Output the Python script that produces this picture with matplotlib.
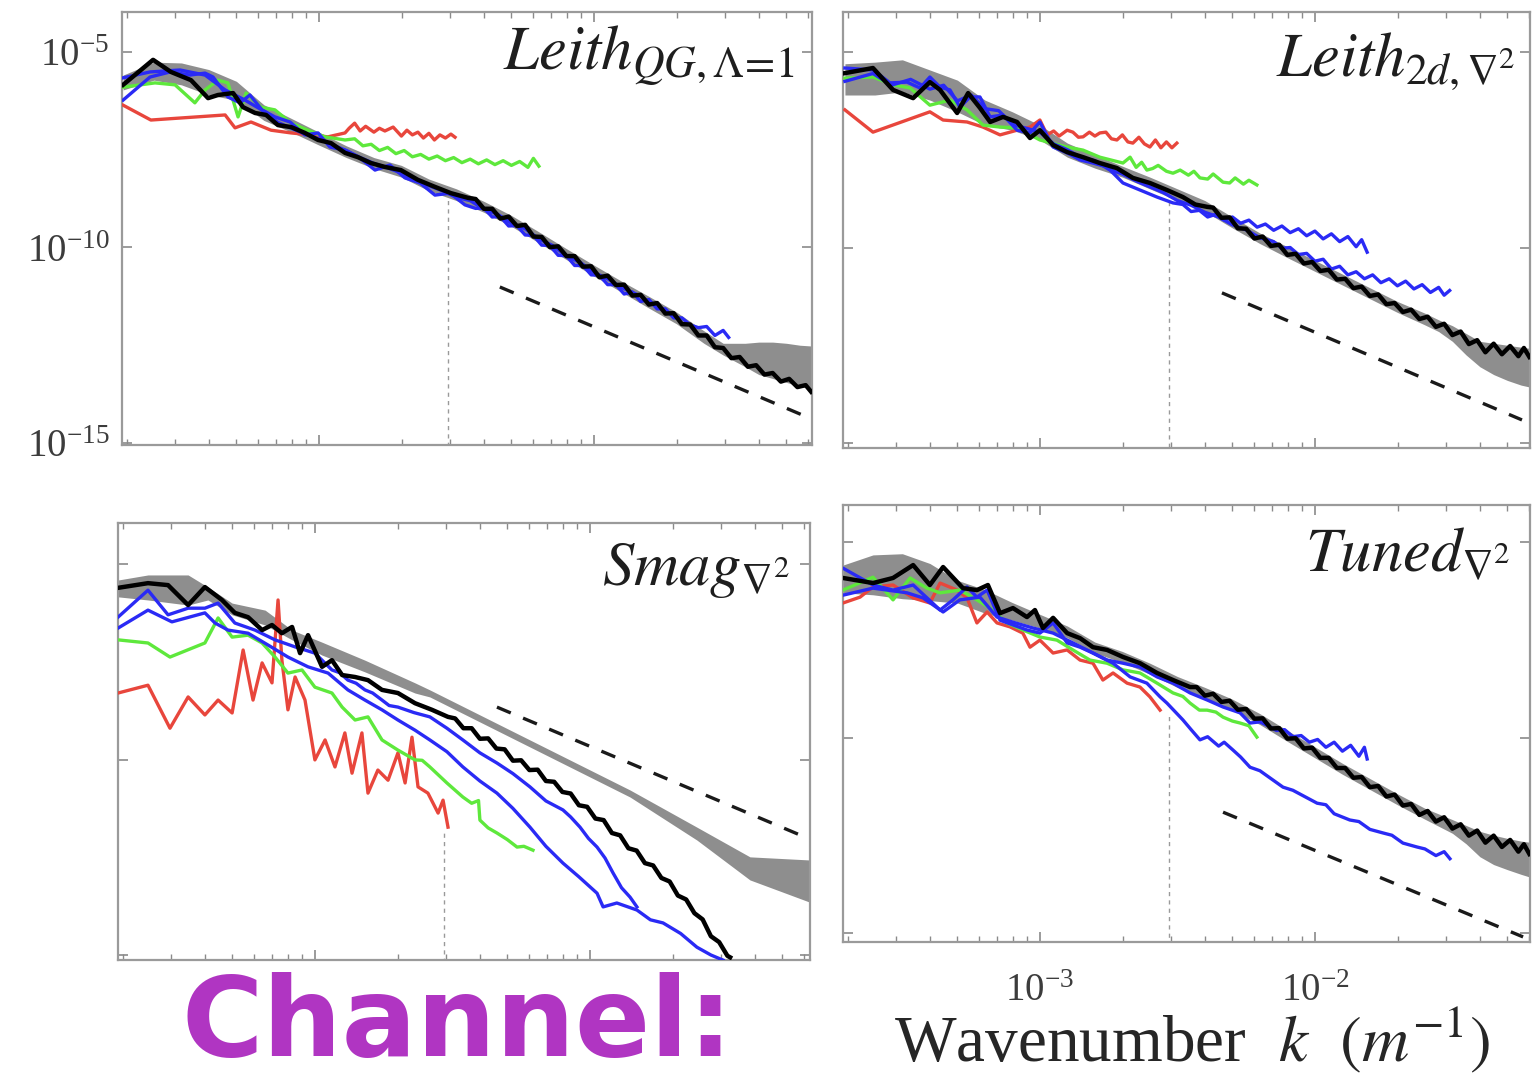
import matplotlib
matplotlib.use('Agg')
import matplotlib.pyplot as plt
import numpy as np
from matplotlib.ticker import LogLocator, NullLocator, NullFormatter

plt.rcParams['font.family'] = ['Liberation Serif', 'DejaVu Serif']
plt.rcParams['mathtext.fontset'] = 'stix'

# all values are (log10 k [1/m], log10 E)
# ---------------- top left: Leith QG ----------------
tl_black = [(-3.712,-5.84),(-3.603,-5.20),(-3.538,-5.51),(-3.465,-5.72),(-3.403,-6.18),(-3.367,-6.10),(-3.312,-6.05),
            (-3.276,-6.41),(-3.232,-6.56),(-3.192,-6.61),(-3.149,-6.87),(-3.101,-6.92),(-3.051,-7.07),(-3.003,-7.25),
            (-2.956,-7.33),(-2.905,-7.58),(-2.858,-7.69),(-2.811,-7.84),(-2.760,-7.94),(-2.702,-8.02),(-2.640,-8.27),
            (-2.578,-8.45),(-2.520,-8.61),(-2.458,-8.73),(-2.43,-8.76),(-2.40,-9.01),(-2.37,-9.01),(-2.34,-9.26),
            (-2.31,-9.21),(-2.28,-9.45),(-2.25,-9.42),(-2.22,-9.72),(-2.19,-9.73),(-2.16,-9.99),(-2.13,-9.97),
            (-2.10,-10.22),(-2.07,-10.22),(-2.04,-10.49),(-2.01,-10.48),(-1.98,-10.76),(-1.95,-10.72),(-1.92,-10.96),
            (-1.89,-10.95),(-1.86,-11.23),(-1.83,-11.21),(-1.80,-11.46),(-1.77,-11.42),(-1.74,-11.69),(-1.71,-11.68),
            (-1.68,-11.96),(-1.65,-11.97),(-1.62,-12.25),(-1.59,-12.25),(-1.56,-12.55),(-1.53,-12.57),(-1.50,-12.83),
            (-1.47,-12.80),(-1.44,-13.05),(-1.41,-13.01),(-1.38,-13.25),(-1.35,-13.21),(-1.32,-13.43),(-1.29,-13.36),
            (-1.26,-13.57),(-1.23,-13.52),(-1.21,-13.69)]
tl_gray = [(-3.712,-5.97,-5.59),(-3.60,-5.72,-5.26),(-3.50,-5.84,-5.28),(-3.40,-6.10,-5.45),(-3.30,-6.23,-5.75),
           (-3.20,-6.75,-6.35),(-3.10,-7.05,-6.70),(-3.00,-7.38,-7.05),(-2.90,-7.70,-7.40),(-2.80,-7.98,-7.70),
           (-2.70,-8.20,-7.90),(-2.60,-8.55,-8.25),(-2.50,-8.80,-8.50),(-2.40,-9.10,-8.82),(-2.30,-9.46,-9.18),
           (-2.20,-9.88,-9.60),(-2.10,-10.31,-10.03),(-2.00,-10.73,-10.45),(-1.90,-11.14,-10.86),(-1.80,-11.55,-11.25),
           (-1.70,-11.95,-11.65),(-1.60,-12.45,-12.13),(-1.53,-12.75,-12.45),(-1.45,-13.05,-12.45),(-1.40,-13.25,-12.42),
           (-1.35,-13.35,-12.42),(-1.30,-13.45,-12.45),(-1.25,-13.55,-12.50),(-1.207,-13.62,-12.52)]
tl_blue1 = [(-3.712,-5.66),(-3.614,-5.51),(-3.505,-5.46),(-3.414,-5.59),(-3.341,-5.97),(-3.269,-6.23),(-3.196,-6.53),
            (-3.15,-6.80),(-3.10,-6.95),(-3.05,-7.10),(-3.00,-7.22),(-2.95,-7.38),(-2.90,-7.52),(-2.85,-7.70),
            (-2.80,-7.85),(-2.75,-7.96),(-2.70,-8.10),(-2.65,-8.25),(-2.60,-8.42),(-2.55,-8.55),(-2.50,-8.72),
            (-2.45,-8.80),(-2.40,-9.02),(-2.35,-9.15),(-2.30,-9.38),(-2.25,-9.52),(-2.20,-9.78),(-2.15,-9.95),
            (-2.10,-10.22),(-2.05,-10.38),(-2.00,-10.64),(-1.95,-10.80),(-1.90,-11.02),(-1.85,-11.18)]
tl_blue2 = [(-3.712,-6.23),(-3.614,-5.64),(-3.541,-5.51),(-3.469,-5.59),(-3.414,-5.54),(-3.385,-5.64),(-3.331,-6.15),
            (-3.287,-6.30),(-3.251,-6.10),(-3.207,-6.48),(-3.160,-6.66),(-3.105,-6.79),(-3.051,-7.12),(-3.003,-7.07),
            (-2.960,-7.43),(-2.905,-7.51),(-2.851,-7.71),(-2.796,-8.02),(-2.742,-7.89),(-2.687,-8.22),(-2.632,-8.35),
            (-2.578,-8.66),(-2.523,-8.61),(-2.469,-8.91),(-2.43,-9.00),(-2.40,-8.99),(-2.37,-9.22),(-2.34,-9.21),
            (-2.31,-9.45),(-2.28,-9.44),(-2.25,-9.68),(-2.22,-9.69),(-2.19,-9.94),(-2.16,-9.95),(-2.13,-10.20),
            (-2.10,-10.21),(-2.07,-10.46),(-2.04,-10.46),(-2.01,-10.70),(-1.98,-10.71),(-1.95,-10.95),(-1.92,-10.95),
            (-1.89,-11.19),(-1.86,-11.14),(-1.83,-11.38),(-1.80,-11.33),(-1.77,-11.57),(-1.74,-11.57),(-1.71,-11.80),
            (-1.68,-11.80),(-1.65,-11.98),(-1.62,-12.05),(-1.59,-12.02),(-1.56,-12.25),(-1.53,-12.12),(-1.51,-12.30)]
tl_green = [(-3.712,-5.90),(-3.596,-5.79),(-3.523,-5.84),(-3.451,-6.30),(-3.414,-5.97),(-3.367,-5.72),(-3.331,-5.79),
            (-3.294,-6.66),(-3.265,-6.05),(-3.211,-6.41),(-3.160,-6.48),(-3.101,-6.82),(-3.040,-7.00),(-2.978,-7.17),
            (-2.905,-7.25),(-2.87,-7.22),(-2.84,-7.40),(-2.81,-7.36),(-2.78,-7.52),(-2.75,-7.44),(-2.72,-7.60),
            (-2.69,-7.52),(-2.66,-7.68),(-2.63,-7.62),(-2.60,-7.74),(-2.57,-7.66),(-2.54,-7.78),(-2.51,-7.70),
            (-2.48,-7.83),(-2.45,-7.74),(-2.42,-7.86),(-2.39,-7.76),(-2.36,-7.88),(-2.33,-7.78),(-2.30,-7.90),
            (-2.27,-7.80),(-2.24,-7.95),(-2.22,-7.72),(-2.20,-7.92)]
tl_red = [(-3.712,-6.36),(-3.611,-6.74),(-3.341,-6.61),(-3.305,-6.94),(-3.247,-6.79),(-3.174,-7.00),(-3.101,-7.07),
          (-3.029,-7.12),(-2.967,-7.17),(-2.905,-7.07),(-2.89,-6.95),(-2.87,-6.82),(-2.85,-7.02),(-2.83,-6.90),
          (-2.80,-7.05),(-2.78,-6.95),(-2.76,-7.02),(-2.73,-6.92),(-2.70,-7.15),(-2.68,-7.00),(-2.66,-7.12),
          (-2.64,-7.05),(-2.62,-7.20),(-2.60,-7.08),(-2.58,-7.25),(-2.56,-7.12),(-2.54,-7.20),(-2.52,-7.10),(-2.505,-7.18)]
tl_slope = [(-2.342,-11.01),(-1.240,-14.29)]

# ---------------- top right: Leith 2d ----------------
tr_black = [(-3.709,-5.54),(-3.607,-5.41),(-3.534,-5.97),(-3.461,-6.18),(-3.400,-5.77),(-3.363,-5.97),(-3.301,-6.56),
            (-3.261,-6.05),(-3.218,-6.43),(-3.181,-6.79),(-3.134,-6.66),(-3.083,-6.79),(-3.036,-7.20),(-3.000,-7.00),
            (-2.952,-7.38),(-2.901,-7.56),(-2.843,-7.69),(-2.782,-7.84),(-2.720,-7.97),(-2.662,-8.22),(-2.600,-8.35),
            (-2.538,-8.53),(-2.480,-8.71),(-2.435,-8.90),(-2.392,-8.96),(-2.37,-8.98),(-2.34,-9.24),(-2.31,-9.23),
            (-2.28,-9.51),(-2.25,-9.52),(-2.22,-9.77),(-2.19,-9.72),(-2.16,-9.96),(-2.13,-9.93),(-2.10,-10.19),
            (-2.07,-10.16),(-2.04,-10.41),(-2.01,-10.37),(-1.98,-10.60),(-1.95,-10.57),(-1.92,-10.82),(-1.89,-10.80),
            (-1.86,-11.04),(-1.83,-11.00),(-1.80,-11.24),(-1.77,-11.20),(-1.74,-11.45),(-1.71,-11.42),(-1.68,-11.65),
            (-1.65,-11.59),(-1.62,-11.83),(-1.59,-11.77),(-1.56,-12.03),(-1.53,-11.95),(-1.50,-12.24),(-1.47,-12.15),
            (-1.44,-12.47),(-1.41,-12.37),(-1.38,-12.68),(-1.35,-12.46),(-1.32,-12.73),(-1.29,-12.52),(-1.26,-12.78),
            (-1.24,-12.57),(-1.22,-12.80)]
tr_gray = [(-3.709,-6.10,-5.30),(-3.60,-6.10,-5.26),(-3.50,-6.02,-5.20),(-3.40,-6.23,-5.46),(-3.30,-6.53,-5.72),
           (-3.20,-6.87,-6.23),(-3.10,-7.00,-6.53),(-3.00,-7.25,-6.87),(-2.90,-7.69,-7.33),(-2.80,-7.97,-7.63),
           (-2.70,-8.20,-7.92),(-2.60,-8.50,-8.20),(-2.50,-8.80,-8.50),(-2.40,-9.08,-8.80),(-2.30,-9.50,-9.22),
           (-2.20,-9.90,-9.63),(-2.10,-10.26,-9.98),(-2.00,-10.61,-10.33),(-1.90,-10.96,-10.68),(-1.80,-11.31,-11.03),
           (-1.70,-11.66,-11.38),(-1.60,-11.98,-11.68),(-1.55,-12.15,-11.85),(-1.50,-12.40,-12.00),(-1.45,-12.75,-12.20),
           (-1.40,-13.05,-12.40),(-1.35,-13.25,-12.45),(-1.30,-13.40,-12.50),(-1.25,-13.52,-12.55),(-1.218,-13.57,-12.58)]
tr_blue1 = [(-3.709,-5.41),(-3.607,-5.46),(-3.545,-5.79),(-3.483,-5.77),(-3.436,-5.92),(-3.400,-5.64),(-3.363,-5.90),
            (-3.327,-5.97),(-3.291,-6.41),(-3.254,-6.15),(-3.218,-6.15),(-3.181,-6.66),(-3.134,-6.61),(-3.083,-7.00),
            (-3.036,-7.07),(-3.000,-6.79),(-2.952,-7.43),(-2.901,-7.58),(-2.854,-7.76),(-2.807,-7.84),(-2.756,-7.94),
            (-2.698,-8.35),(-2.636,-8.53),(-2.574,-8.71),(-2.516,-8.86),(-2.48,-8.90),(-2.45,-9.08),(-2.42,-9.05),
            (-2.39,-9.22),(-2.36,-9.15),(-2.33,-9.30),(-2.30,-9.22),(-2.27,-9.38),(-2.24,-9.30),(-2.21,-9.48),
            (-2.18,-9.40),(-2.15,-9.56),(-2.12,-9.45),(-2.09,-9.62),(-2.06,-9.52),(-2.03,-9.70),(-2.00,-9.58),
            (-1.97,-9.78),(-1.94,-9.65),(-1.91,-9.85),(-1.88,-9.72),(-1.85,-9.98),(-1.83,-9.80),(-1.81,-10.12)]
tr_blue2 = [(-3.709,-5.75),(-3.607,-5.55),(-3.54,-5.85),(-3.47,-5.70),(-3.40,-5.95),(-3.35,-5.85),(-3.30,-6.25),
            (-3.25,-6.10),(-3.20,-6.45),(-3.15,-6.50),(-3.10,-6.85),(-3.05,-6.95),(-3.00,-7.05),(-2.95,-7.35),
            (-2.90,-7.50),(-2.85,-7.70),(-2.80,-7.78),(-2.75,-8.00),(-2.70,-8.12),(-2.65,-8.30),(-2.60,-8.45),
            (-2.55,-8.60),(-2.50,-8.80),(-2.45,-8.92),(-2.40,-9.10),(-2.35,-9.22),(-2.30,-9.42),(-2.25,-9.55),
            (-2.20,-9.75),(-2.15,-9.85),(-2.12,-10.02),(-2.09,-10.00),(-2.06,-10.18),(-2.03,-10.15),(-2.00,-10.35),
            (-1.97,-10.30),(-1.94,-10.55),(-1.91,-10.48),(-1.88,-10.70),(-1.85,-10.62),(-1.82,-10.80),(-1.79,-10.70),
            (-1.76,-10.90),(-1.73,-10.80),(-1.70,-10.98),(-1.67,-10.86),(-1.64,-11.06),(-1.61,-10.95),(-1.58,-11.15),
            (-1.55,-11.02),(-1.53,-11.22),(-1.51,-11.10)]
tr_green = [(-3.709,-5.67),(-3.607,-5.64),(-3.534,-5.84),(-3.472,-5.92),(-3.400,-6.36),(-3.327,-6.23),(-3.265,-6.48),
            (-3.207,-6.87),(-3.145,-6.92),(-3.083,-6.94),(-3.000,-7.25),(-2.901,-7.43),(-2.843,-7.51),(-2.782,-7.69),
            (-2.698,-7.84),(-2.672,-7.69),(-2.65,-7.95),(-2.63,-7.82),(-2.611,-8.02),(-2.59,-7.98),(-2.57,-7.90),
            (-2.54,-8.05),(-2.516,-8.10),(-2.49,-8.02),(-2.46,-8.15),(-2.44,-8.05),(-2.418,-8.22),(-2.39,-8.25),
            (-2.37,-8.12),(-2.334,-8.33),(-2.31,-8.35),(-2.29,-8.22),(-2.26,-8.38),(-2.24,-8.28),(-2.211,-8.40)]
tr_red = [(-3.709,-6.48),(-3.607,-7.05),(-3.400,-6.53),(-3.352,-6.74),(-3.265,-6.79),(-3.207,-6.92),(-3.145,-7.12),
          (-3.083,-7.00),(-3.036,-6.92),(-3.000,-6.74),(-2.974,-7.12),(-2.95,-7.02),(-2.93,-7.15),(-2.901,-7.00),
          (-2.88,-7.05),(-2.86,-7.18),(-2.843,-7.17),(-2.82,-7.05),(-2.80,-7.15),(-2.782,-7.07),(-2.76,-7.05),
          (-2.74,-7.22),(-2.720,-7.25),(-2.70,-7.12),(-2.68,-7.30),(-2.662,-7.33),(-2.64,-7.18),(-2.62,-7.35),
          (-2.600,-7.43),(-2.58,-7.25),(-2.56,-7.45),(-2.54,-7.30),(-2.52,-7.45),(-2.502,-7.33)]
tr_slope = [(-2.338,-11.16),(-1.247,-14.41)]

# ---------------- bottom left: Smag ----------------
bl_black = [(-3.716,-5.61),(-3.607,-5.49),(-3.534,-5.54),(-3.461,-6.05),(-3.400,-5.59),(-3.338,-5.92),(-3.291,-6.25),
            (-3.243,-6.36),(-3.192,-6.69),(-3.156,-6.56),(-3.120,-6.77),(-3.083,-6.61),(-3.054,-7.28),(-3.025,-6.82),
            (-2.974,-7.63),(-2.938,-7.46),(-2.901,-7.84),(-2.854,-7.89),(-2.807,-7.97),(-2.756,-8.22),(-2.698,-8.30),
            (-2.636,-8.56),(-2.574,-8.73),(-2.516,-8.91),(-2.49,-8.95),(-2.46,-9.20),(-2.43,-9.20),(-2.40,-9.47),
            (-2.37,-9.46),(-2.34,-9.72),(-2.31,-9.74),(-2.28,-10.03),(-2.25,-10.02),(-2.22,-10.27),(-2.19,-10.26),
            (-2.16,-10.55),(-2.13,-10.57),(-2.10,-10.83),(-2.07,-10.87),(-2.04,-11.17),(-2.01,-11.21),(-1.98,-11.51),
            (-1.95,-11.55),(-1.92,-11.88),(-1.89,-11.94),(-1.86,-12.27),(-1.83,-12.33),(-1.80,-12.65),(-1.77,-12.71),
            (-1.74,-13.03),(-1.71,-13.12),(-1.68,-13.48),(-1.65,-13.58),(-1.62,-13.93),(-1.59,-14.09),(-1.56,-14.52),
            (-1.53,-14.67),(-1.50,-15.02),(-1.49,-15.06)]
bl_gray = [(-3.716,-5.84,-5.41),(-3.607,-5.92,-5.28),(-3.461,-6.05,-5.28),(-3.389,-5.92,-5.59),(-3.301,-6.30,-6.00),
           (-3.181,-6.56,-6.18),(-3.083,-6.94,-6.69),(-2.974,-7.33,-7.00),(-2.818,-7.76,-7.46),(-2.636,-8.30,-8.04),
           (-2.582,-8.40,-8.22),(-2.218,-9.68,-9.50),(-1.854,-10.96,-10.78),(-1.611,-12.06,-11.73),
           (-1.418,-13.08,-12.49),(-1.200,-13.65,-12.57)]
bl_blue1 = [(-3.716,-6.36),(-3.607,-5.67),(-3.534,-6.30),(-3.461,-6.13),(-3.400,-6.13),(-3.352,-6.00),(-3.291,-6.51),
            (-3.218,-6.69),(-3.145,-6.94),(-3.072,-7.12),(-3.000,-7.28),(-2.938,-7.71),(-2.91,-7.78),(-2.880,-7.97),
            (-2.85,-8.05),(-2.818,-8.22),(-2.79,-8.30),(-2.756,-8.48),(-2.73,-8.62),(-2.698,-8.66),(-2.64,-8.80),
            (-2.582,-8.91),(-2.52,-9.20),(-2.462,-9.50),(-2.40,-9.83),(-2.338,-10.09),(-2.28,-10.36),(-2.218,-10.70),
            (-2.16,-11.06),(-2.098,-11.29),(-2.07,-11.47),(-2.036,-11.73),(-2.005,-12.02),(-1.974,-12.24),
            (-1.945,-12.52),(-1.916,-12.90),(-1.885,-13.28),(-1.854,-13.52),(-1.829,-13.77)]
bl_blue2 = [(-3.716,-6.64),(-3.607,-6.18),(-3.520,-6.48),(-3.400,-6.25),(-3.363,-6.51),(-3.316,-6.69),(-3.243,-6.77),
            (-3.171,-7.07),(-3.098,-7.38),(-3.025,-7.63),(-2.952,-7.79),(-2.880,-8.22),(-2.818,-8.48),(-2.756,-8.73),
            (-2.698,-8.99),(-2.636,-9.25),(-2.582,-9.50),(-2.52,-9.80),(-2.462,-10.19),(-2.40,-10.55),(-2.338,-10.86),
            (-2.28,-11.25),(-2.218,-11.73),(-2.16,-12.22),(-2.098,-12.65),(-2.04,-13.00),(-1.974,-13.42),
            (-1.952,-13.77),(-1.902,-13.67),(-1.829,-13.85),(-1.78,-14.10),(-1.734,-14.18),(-1.67,-14.45),
            (-1.611,-14.80),(-1.56,-15.00),(-1.516,-15.13)]
bl_green = [(-3.716,-6.94),(-3.607,-7.02),(-3.527,-7.38),(-3.400,-7.02),(-3.352,-6.38),(-3.301,-6.87),(-3.243,-6.82),
            (-3.192,-7.02),(-3.145,-7.38),(-3.098,-7.79),(-3.047,-7.71),(-3.000,-8.15),(-2.938,-8.30),(-2.901,-8.66),
            (-2.854,-8.99),(-2.807,-8.91),(-2.756,-9.50),(-2.698,-9.76),(-2.636,-10.01),(-2.61,-10.02),(-2.582,-10.19),
            (-2.52,-10.60),(-2.462,-10.96),(-2.43,-11.12),(-2.405,-11.05),(-2.400,-11.55),(-2.37,-11.75),
            (-2.338,-11.88),(-2.30,-12.05),(-2.265,-12.24),(-2.24,-12.22),(-2.207,-12.32)]
bl_red = [(-3.716,-8.30),(-3.607,-8.10),(-3.527,-9.20),(-3.461,-8.40),(-3.400,-8.86),(-3.352,-8.48),(-3.301,-8.81),
          (-3.261,-7.20),(-3.225,-8.48),(-3.192,-7.53),(-3.156,-8.04),(-3.134,-5.92),(-3.120,-7.46),(-3.098,-8.73),
          (-3.072,-7.89),(-3.036,-8.48),(-3.000,-10.01),(-2.963,-9.50),(-2.927,-10.19),(-2.891,-9.32),(-2.865,-10.35),
          (-2.829,-9.32),(-2.807,-10.86),(-2.771,-10.27),(-2.734,-10.53),(-2.698,-9.83),(-2.672,-10.60),
          (-2.647,-9.43),(-2.625,-10.70),(-2.589,-10.86),(-2.552,-11.37),(-2.534,-11.04),(-2.516,-11.73)]
bl_slope = [(-2.338,-8.66),(-1.236,-11.93)]

# ---------------- bottom right: Tuned ----------------
br_black = [(-3.716,-5.92),(-3.607,-6.05),(-3.534,-5.92),(-3.461,-5.59),(-3.400,-6.10),(-3.352,-5.64),(-3.280,-6.18),
            (-3.229,-6.23),(-3.189,-6.10),(-3.145,-6.82),(-3.098,-6.69),(-3.047,-6.92),(-3.018,-6.74),(-2.989,-7.20),
            (-2.952,-6.94),(-2.901,-7.33),(-2.854,-7.46),(-2.807,-7.69),(-2.756,-7.76),(-2.698,-7.94),(-2.636,-8.10),
            (-2.574,-8.35),(-2.516,-8.53),(-2.454,-8.71),(-2.43,-8.71),(-2.40,-8.93),(-2.37,-8.88),(-2.34,-9.09),
            (-2.31,-9.06),(-2.28,-9.29),(-2.25,-9.27),(-2.22,-9.52),(-2.19,-9.51),(-2.16,-9.77),(-2.13,-9.76),
            (-2.10,-10.03),(-2.07,-10.02),(-2.04,-10.28),(-2.01,-10.26),(-1.98,-10.52),(-1.95,-10.52),(-1.92,-10.78),
            (-1.89,-10.78),(-1.86,-11.03),(-1.83,-11.01),(-1.80,-11.27),(-1.77,-11.24),(-1.74,-11.51),(-1.71,-11.46),
            (-1.68,-11.74),(-1.65,-11.70),(-1.62,-11.98),(-1.59,-11.88),(-1.56,-12.15),(-1.53,-12.04),(-1.50,-12.33),
            (-1.47,-12.22),(-1.44,-12.51),(-1.41,-12.38),(-1.38,-12.69),(-1.35,-12.51),(-1.32,-12.80),(-1.29,-12.62),
            (-1.26,-12.92),(-1.24,-12.73),(-1.22,-12.98)]
br_gray = [(-3.716,-6.30,-5.59),(-3.607,-6.35,-5.33),(-3.50,-6.45,-5.30),(-3.40,-6.50,-5.55),(-3.30,-6.56,-5.98),
           (-3.20,-6.82,-6.22),(-3.10,-7.00,-6.55),(-3.00,-7.20,-6.85),(-2.90,-7.45,-7.15),(-2.80,-7.84,-7.56),
           (-2.70,-8.08,-7.80),(-2.60,-8.38,-8.10),(-2.50,-8.72,-8.44),(-2.40,-9.00,-8.72),(-2.30,-9.30,-9.02),
           (-2.20,-9.67,-9.39),(-2.10,-10.10,-9.82),(-2.00,-10.52,-10.24),(-1.90,-10.94,-10.66),(-1.80,-11.33,-11.05),
           (-1.70,-11.72,-11.44),(-1.60,-12.09,-11.81),(-1.50,-12.45,-12.10),(-1.45,-12.72,-12.25),(-1.40,-13.05,-12.40),
           (-1.35,-13.25,-12.50),(-1.30,-13.38,-12.58),(-1.25,-13.50,-12.65),(-1.218,-13.57,-12.68)]
br_blue1 = [(-3.716,-5.67),(-3.607,-6.10),(-3.534,-6.23),(-3.461,-6.10),(-3.363,-6.74),(-3.316,-6.48),(-3.265,-6.15),
            (-3.229,-6.41),(-3.192,-6.23),(-3.145,-7.00),(-3.098,-7.12),(-3.047,-7.25),(-3.000,-7.33),(-2.952,-7.07),
            (-2.901,-7.58),(-2.854,-7.69),(-2.807,-7.84),(-2.756,-8.02),(-2.698,-8.10),(-2.636,-8.20),(-2.574,-8.45),
            (-2.516,-8.61),(-2.454,-8.86),(-2.392,-9.04),(-2.334,-9.22),(-2.272,-9.37),(-2.236,-9.63),(-2.20,-9.60),
            (-2.17,-9.70),(-2.14,-9.82),(-2.11,-9.80),(-2.08,-9.98),(-2.05,-9.95),(-2.02,-10.12),(-1.99,-10.05),
            (-1.96,-10.25),(-1.93,-10.12),(-1.90,-10.35),(-1.87,-10.20),(-1.84,-10.48),(-1.82,-10.25),(-1.81,-10.55)]
br_blue2 = [(-3.716,-6.36),(-3.607,-6.18),(-3.483,-6.30),(-3.425,-6.43),(-3.352,-6.79),(-3.291,-6.48),(-3.218,-6.41),
            (-3.156,-6.92),(-3.098,-7.05),(-3.025,-7.20),(-2.952,-7.33),(-2.880,-7.58),(-2.807,-7.84),(-2.734,-8.10),
            (-2.672,-8.45),(-2.611,-8.61),(-2.563,-8.96),(-2.538,-9.12),(-2.48,-9.55),(-2.45,-9.80),(-2.418,-10.06),
            (-2.39,-9.98),(-2.35,-10.22),(-2.33,-10.12),(-2.298,-10.32),(-2.27,-10.50),(-2.236,-10.76),(-2.20,-10.85),
            (-2.16,-11.05),(-2.116,-11.27),(-2.08,-11.35),(-2.04,-11.50),(-1.992,-11.68),(-1.96,-11.72),(-1.93,-11.95),
            (-1.873,-12.11),(-1.84,-12.15),(-1.80,-12.35),(-1.753,-12.44),(-1.72,-12.50),(-1.68,-12.70),(-1.629,-12.80),
            (-1.60,-12.85),(-1.56,-13.02),(-1.53,-12.92),(-1.509,-13.10)]
br_green = [(-3.716,-6.23),(-3.607,-5.90),(-3.534,-6.48),(-3.472,-5.92),(-3.411,-6.18),(-3.363,-6.30),(-3.291,-6.23),
            (-3.229,-6.48),(-3.181,-6.69),(-3.120,-7.07),(-3.062,-7.25),(-3.000,-7.43),(-2.938,-7.51),(-2.880,-7.76),
            (-2.818,-8.02),(-2.756,-8.10),(-2.698,-8.27),(-2.636,-8.35),(-2.574,-8.61),(-2.516,-8.86),(-2.48,-8.95),
            (-2.454,-9.12),(-2.42,-9.30),(-2.392,-9.30),(-2.36,-9.35),(-2.334,-9.48),(-2.30,-9.58),(-2.272,-9.63),
            (-2.24,-9.70),(-2.211,-9.99)]
br_red = [(-3.716,-6.56),(-3.654,-6.41),(-3.607,-6.15),(-3.534,-6.10),(-3.461,-6.43),(-3.400,-6.56),(-3.363,-6.05),
          (-3.301,-6.23),(-3.265,-6.43),(-3.229,-7.07),(-3.192,-6.79),(-3.156,-7.07),(-3.109,-7.17),(-3.062,-7.33),
          (-3.036,-7.69),(-3.000,-7.51),(-2.952,-7.84),(-2.901,-7.76),(-2.854,-8.02),(-2.807,-8.10),(-2.771,-8.53),
          (-2.734,-8.35),(-2.683,-8.61),(-2.636,-8.71),(-2.600,-8.96),(-2.563,-9.30)]
br_slope = [(-2.334,-11.91),(-1.243,-15.10)]

k_filter = -2.53                       # dotted vertical line, log10 k
filter_top = [-8.79, -8.66, -11.80, -9.43]
titles = [r'$Leith_{QG,\Lambda\!=\!1}$', r'$Leith_{2d,\nabla^2}$', r'$Smag_{\nabla^2}$', r'$Tuned_{\nabla^2}$']

RED, GREEN, BLUE = '#e8463c', '#5ee83c', '#2a2af5'
GRAY = '#8e8e8e'
W, H = 1533, 1078

fig = plt.figure(figsize=(W / 100, H / 100), dpi=100)

# pixel boxes (left, right, top, bottom) and the pixel row of 1e-5
boxes = [(122, 812, 12, 445, 52), (843, 1530, 12, 448, 52), (118, 810, 523, 960, 564), (843, 1530, 505, 942, 542)]
title_pos = [(0.975, 0.866), (0.978, 0.855), (0.971, 0.858), (0.971, 0.847)]
panels = [
    (tl_black, tl_gray, [tl_blue1, tl_blue2], tl_green, tl_red, tl_slope),
    (tr_black, tr_gray, [tr_blue1, tr_blue2], tr_green, tr_red, tr_slope),
    (bl_black, bl_gray, [bl_blue1, bl_blue2], bl_green, bl_red, bl_slope),
    (br_black, br_gray, [br_blue1, br_blue2], br_green, br_red, br_slope),
]


def xy(pairs):
    a = np.array(pairs, dtype=float)
    return 10 ** a[:, 0], 10 ** a[:, 1]


for i, (black, gray, blues, green, red, slope) in enumerate(panels):
    l, r, t, b, y5 = boxes[i]
    ax = fig.add_axes([l / W, 1 - b / H, (r - l) / W, (b - t) / H])
    ax.set_xscale('log')
    ax.set_yscale('log')

    g = np.array(gray, dtype=float)
    ax.fill_between(10 ** g[:, 0], 10 ** g[:, 1], 10 ** g[:, 2], color=GRAY, lw=0, zorder=1)

    ax.plot([10 ** k_filter] * 2, [1e-20, 10 ** filter_top[i]], color='#9a9a9a', lw=1.0,
            ls=(0, (3, 3)), zorder=0.5)

    x, y = xy(red)
    ax.plot(x, y, color=RED, lw=2.4, zorder=3, solid_joinstyle='round')
    x, y = xy(green)
    ax.plot(x, y, color=GREEN, lw=2.4, zorder=3, solid_joinstyle='round')
    for bl in blues:
        x, y = xy(bl)
        ax.plot(x, y, color=BLUE, lw=2.4, zorder=4, solid_joinstyle='round')
    x, y = xy(black)
    ax.plot(x, y, color='black', lw=3.2, zorder=5, solid_joinstyle='round')
    x, y = xy(slope)
    ax.plot(x, y, color='#1a1a1a', lw=2.4, dashes=(4.5, 4), zorder=6)

    ax.set_xlim(10 ** -3.716, 10 ** (-3.716 + (r - l) / 275))
    ax.set_ylim(10 ** (-5 - (b - y5) / 39.1), 10 ** (-5 + (y5 - t) / 39.1))

    ax.xaxis.set_major_locator(LogLocator(base=10, numticks=10))
    ax.xaxis.set_minor_locator(LogLocator(base=10, subs=np.arange(2, 10), numticks=20))
    ax.xaxis.set_minor_formatter(NullFormatter())
    ax.set_yticks([1e-15, 1e-10, 1e-5])
    ax.yaxis.set_minor_locator(NullLocator())
    ax.tick_params(which='both', direction='in', top=True, right=True, color='#8a8a8a',
                   labelsize=28, labelcolor='#3c3c3c')
    ax.tick_params(which='major', length=7, width=1.2)
    ax.tick_params(which='minor', length=4, width=1.0)
    ax.tick_params(axis='y', pad=9)
    ax.tick_params(axis='x', pad=22)
    ax.tick_params(labelleft=(i == 0), labelbottom=(i == 3))
    for s in ax.spines.values():
        s.set_color('#9a9a9a')
        s.set_linewidth(1.6)

    ax.text(title_pos[i][0], title_pos[i][1], titles[i], transform=ax.transAxes,
            ha='right', va='baseline', fontsize=45, color='#1e1e1e', zorder=10)

fig.text(1192 / W, 1 - 1061 / H, r'Wavenumber  $k$  $(m^{-1})$', ha='center', va='baseline',
         fontsize=47, color='#262626')
fig.text(457 / W, 1 - 1056 / H, 'Channel:', ha='center', va='baseline', fontsize=80,
         fontweight='bold', family='DejaVu Sans', color='#b035c2')

fig.savefig('out.png', dpi=100)
